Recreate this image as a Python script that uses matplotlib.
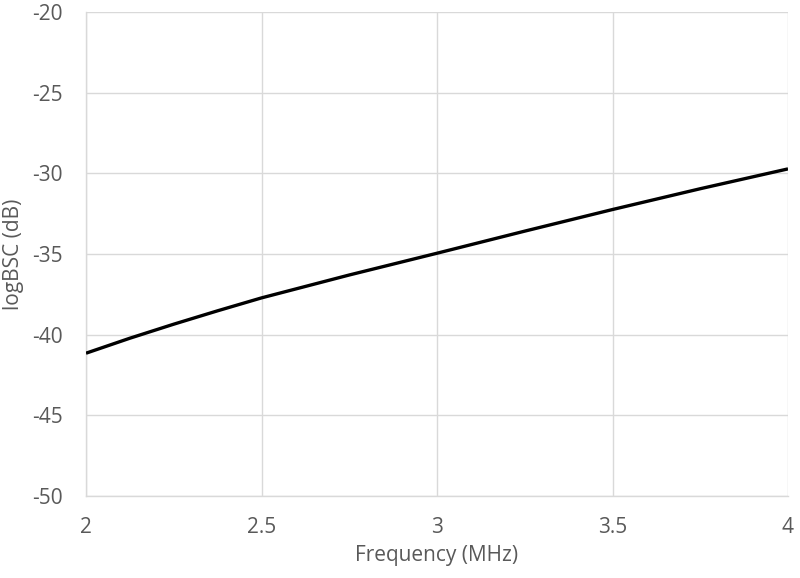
import matplotlib
matplotlib.use("Agg")
import matplotlib.pyplot as plt

# values
freq_mhz = [2.0, 2.125, 2.25, 2.375, 2.5, 2.75, 3.0, 3.25, 3.5, 3.75, 4.0]
log_bsc_db = [-41.15, -40.22, -39.35, -38.52, -37.72, -36.30, -34.95,
              -33.58, -32.24, -30.95, -29.72]

x_ticks = [2, 2.5, 3, 3.5, 4]
x_tick_labels = ["2", "2.5", "3", "3.5", "4"]
y_ticks = [-50, -45, -40, -35, -30, -25, -20]

plt.rcParams["font.family"] = ["Open Sans", "DejaVu Sans"]
plt.rcParams["axes.unicode_minus"] = False

fig = plt.figure(figsize=(8, 5.78), dpi=100)
ax = fig.add_axes([0.1075, 0.142, 0.8775, 0.837])

ax.plot(freq_mhz, log_bsc_db, color="black", linewidth=2.4, solid_capstyle="butt", zorder=3)

ax.set_xlim(2, 4)
ax.set_ylim(-50, -20)
ax.set_xticks(x_ticks)
ax.set_xticklabels(x_tick_labels)
ax.set_yticks(y_ticks)

ax.grid(True, color="#d9d9d9", linewidth=1.0)
ax.set_axisbelow(True)
for side in ("top", "right"):
    ax.spines[side].set_visible(False)
for side in ("left", "bottom"):
    ax.spines[side].set_color("#d9d9d9")
    ax.spines[side].set_linewidth(1.0)

ax.tick_params(length=0, labelsize=15, colors="#595959")
ax.tick_params(axis="y", pad=17)
ax.tick_params(axis="x", pad=15)
ax.set_xlabel("Frequency (MHz)", fontsize=15, color="#595959", labelpad=5)
ax.set_ylabel("logBSC (dB)", fontsize=15, color="#595959")
ax.yaxis.set_label_coords(-0.088, 0.5)

fig.savefig("out.png", dpi=100, facecolor="white")
plt.close(fig)
